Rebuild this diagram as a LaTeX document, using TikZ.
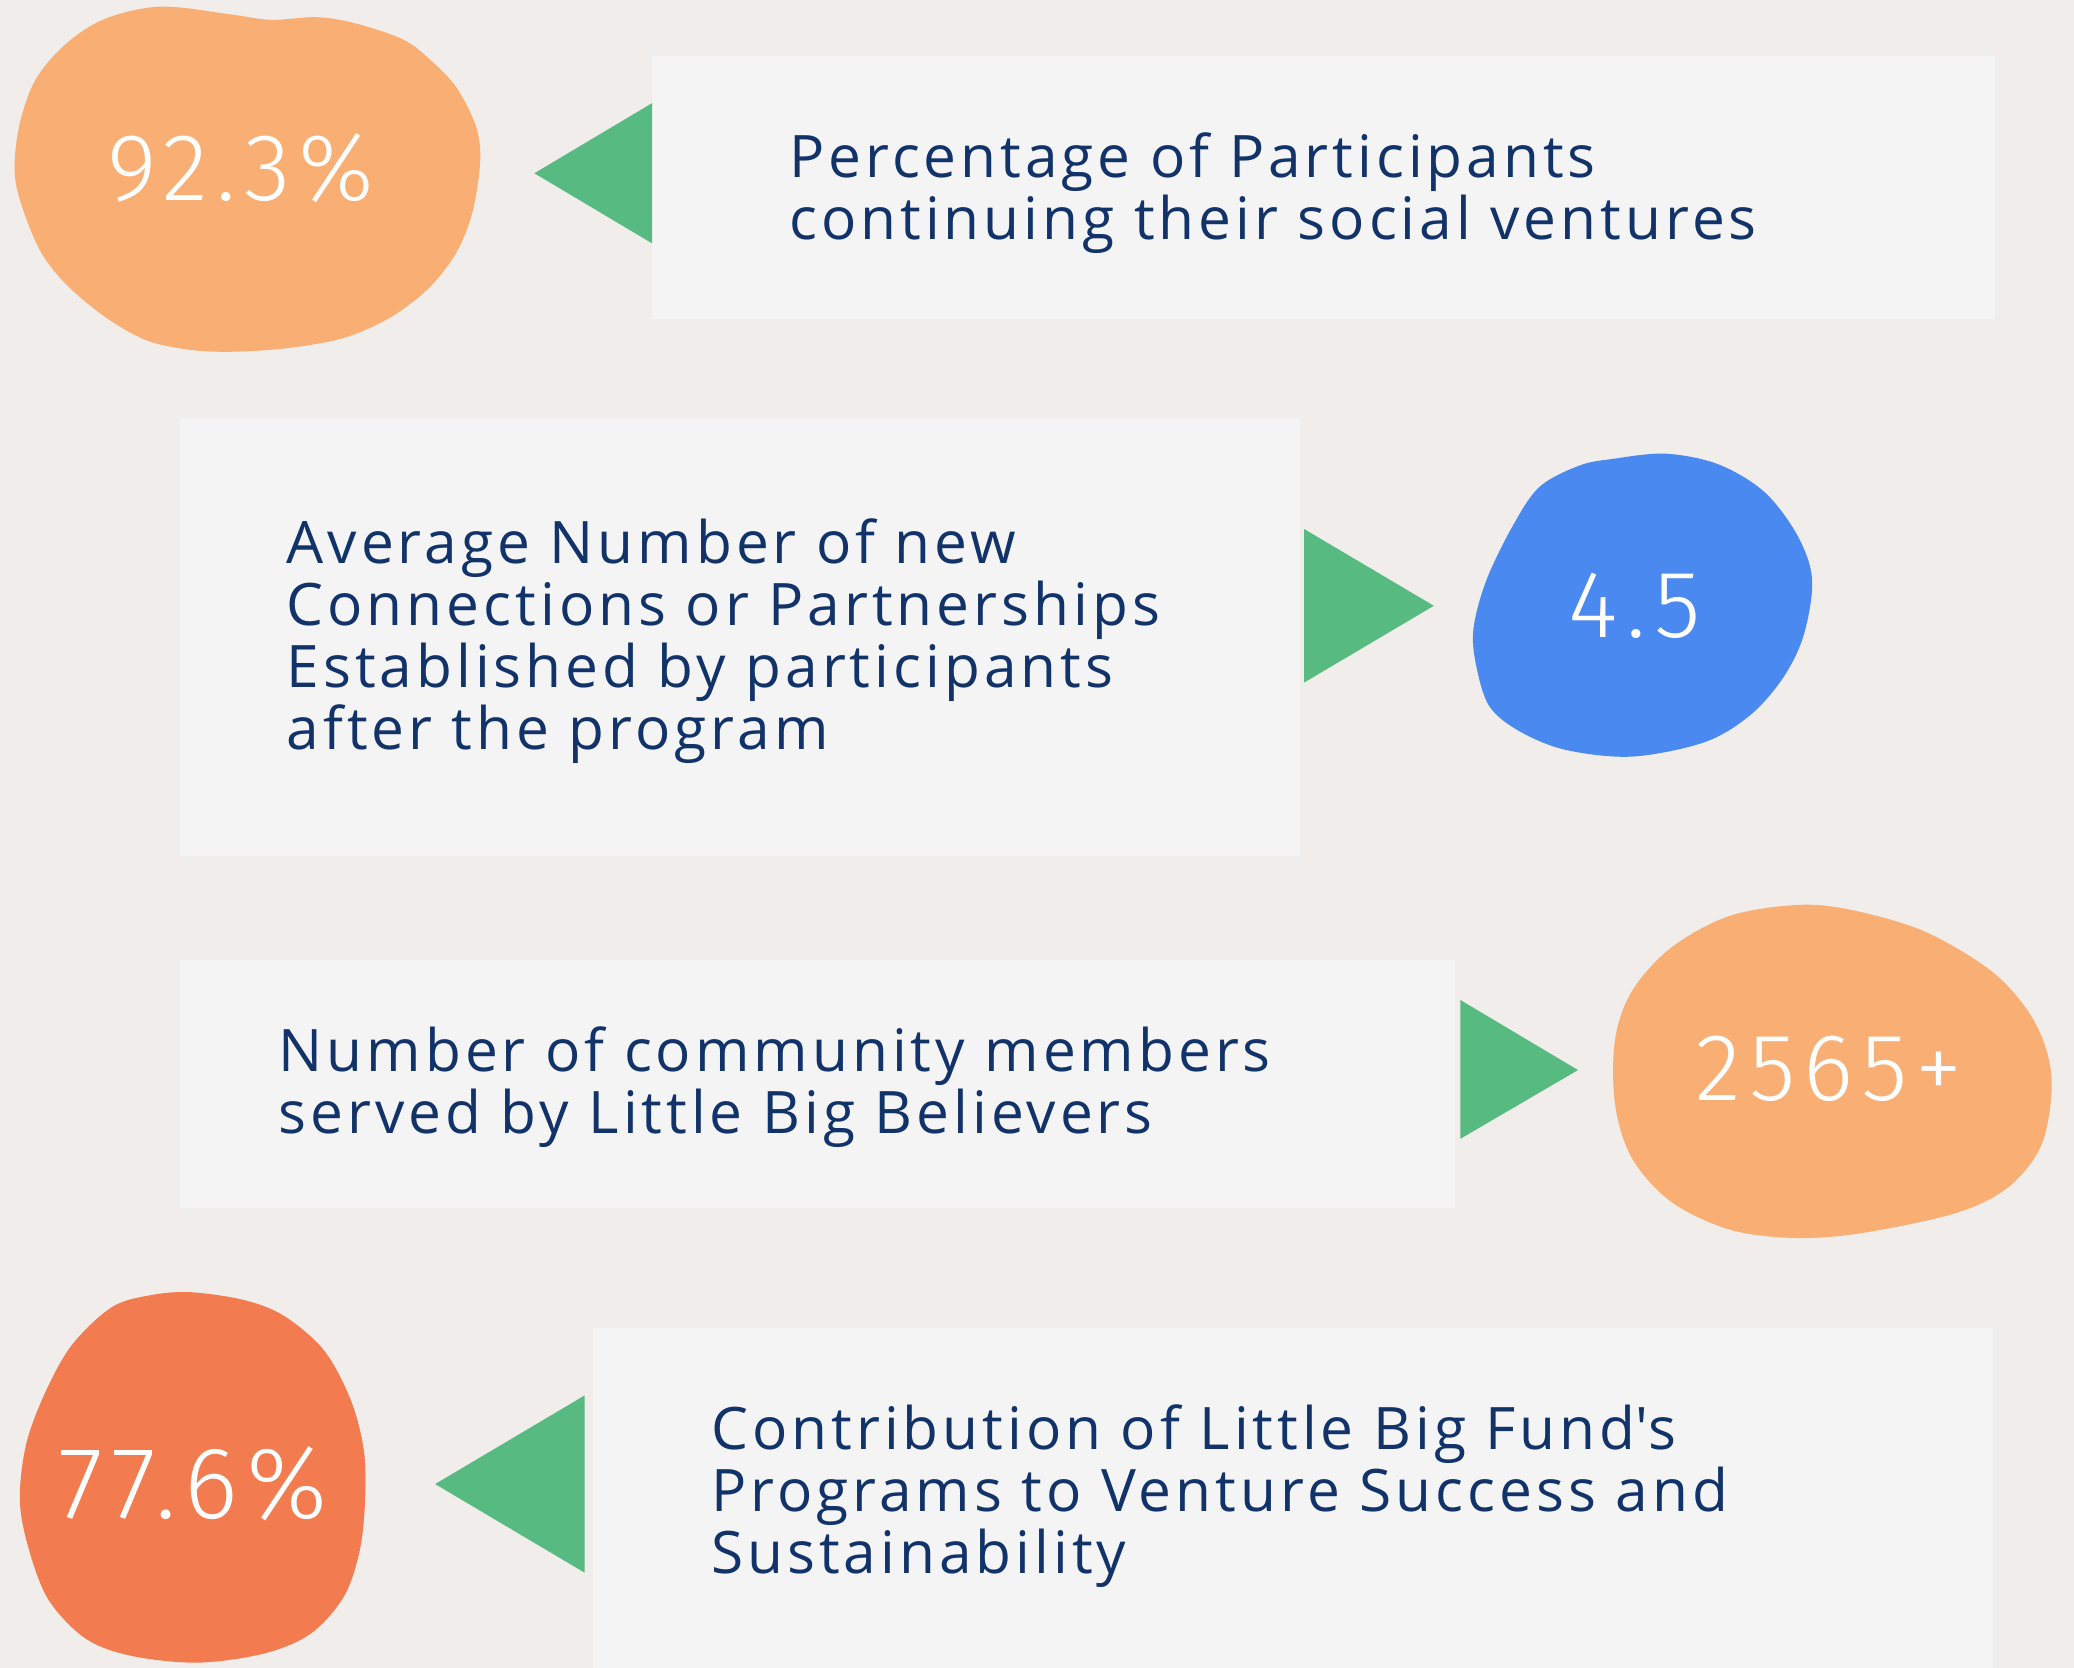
\documentclass[tikz,border=0pt]{standalone}
\usepackage{fontspec}
\usepackage{xcolor}
\usepackage{tikz}
\usetikzlibrary{positioning,calc}
\setmainfont{Open Sans}[LetterSpace=6.8]
\newfontfamily\numfont{Fira Sans Light}[LetterSpace=8.5]

\definecolor{paper}{HTML}{F1EDEA}
\definecolor{card}{HTML}{F4F4F4}
\definecolor{arrowgreen}{HTML}{57BA80}
\definecolor{peach}{HTML}{F9AF74}
\definecolor{sky}{HTML}{4A89F0}
\definecolor{coral}{HTML}{F37B50}
\definecolor{navy}{HTML}{12336A}

\begin{document}
\begin{tikzpicture}[x=0.1mm, y=-0.1mm,
    card/.style={fill=card},
    pointer/.style={fill=arrowgreen},
    blob/.style={smooth cycle, tension=0.55},
    stat/.style={inner sep=0pt, text=white, font=\numfont\fontsize{20.5pt}{24pt}\selectfont},
    desc/.style={anchor=base west, inner sep=0pt, align=left, text=navy,
        text width=#1, font=\fontsize{12.6pt}{13.35pt}\selectfont},
    desc/.default=8.5cm]
    % Background
    \fill [paper] (0,0) rectangle (1568,1261);
    \useasboundingbox (0,0) rectangle (1568,1261);

    % Row 1: ventures
    \fill [card] (493,42) rectangle (1508,241);
    \fill [pointer] (493,78) -- (404,131) -- (493,184) -- cycle;
    \fill [peach] plot [blob] coordinates {(122,5) (175,11) (205,15) (240,13) (270,18) (305,30) (325,45) (345,66) (360,96) (363,123) (357,161) (345,191) (325,217) (300,237) (275,250) (250,258) (210,264) (170,266) (140,264) (110,257) (80,240) (50,215) (30,189) (15,151) (11,126) (15,93) (27,60) (50,33) (80,14)};
    \node [stat] (stat1) at (182,127) {92.3\%};
    \node [desc] (text1) at (596,134) {Percentage of Participants\\continuing their social ventures};

    % Row 2: connections
    \fill [card] (136,316) rectangle (983,647);
    \fill [pointer] (986,400) -- (1084,458) -- (986,516) -- cycle;
    \fill [sky] plot [blob] coordinates {(1259,343) (1299,351) (1334,372) (1359,405) (1370,438) (1364,479) (1349,511) (1324,540) (1289,561) (1234,572) (1184,567) (1149,553) (1126,534) (1116,503) (1114,475) (1124,438) (1144,397) (1164,368) (1194,352) (1219,347)};
    \node [stat] (stat2) at (1236,458) {4.5};
    \node [desc] (text2) at (216,426) {Average Number of new\\Connections or Partnerships\\Established by participants\\after the program};

    % Row 3: community
    \fill [card] (136,726) rectangle (1100,913);
    \fill [pointer] (1104,756) -- (1193,809) -- (1104,861) -- cycle;
    \fill [peach] plot [blob] coordinates {(1364,684) (1409,690) (1459,706) (1509,737) (1539,774) (1551,815) (1544,864) (1519,897) (1479,917) (1409,932) (1359,936) (1309,930) (1264,909) (1234,876) (1221,835) (1221,786) (1234,749) (1264,716) (1309,692)};
    \node [stat] (stat3) at (1383,808) {2565+};
    \node [desc] (text3) at (210,810) {Number of community members\\served by Little Big Believers};

    % Row 4: contribution
    \fill [card] (448,1004) rectangle (1507,1261);
    \fill [pointer] (442,1055) -- (329,1122) -- (442,1189) -- cycle;
    \fill [coral] plot [blob] coordinates {(145,977) (185,983) (215,995) (245,1021) (265,1058) (275,1096) (276,1134) (272,1172) (260,1207) (235,1235) (200,1250) (150,1257) (100,1252) (65,1239) (37,1210) (22,1172) (15,1134) (20,1091) (35,1051) (55,1016) (85,988) (115,979)};
    \node [stat, font=\numfont\fontsize{22pt}{26pt}\selectfont] (stat4) at (146,1122) {77.6\%};
    \node [desc] (text4) at (537,1096) {Contribution of Little Big Fund\textquotesingle s\\Programs to Venture Success and\\Sustainability};
\end{tikzpicture}
\end{document}
